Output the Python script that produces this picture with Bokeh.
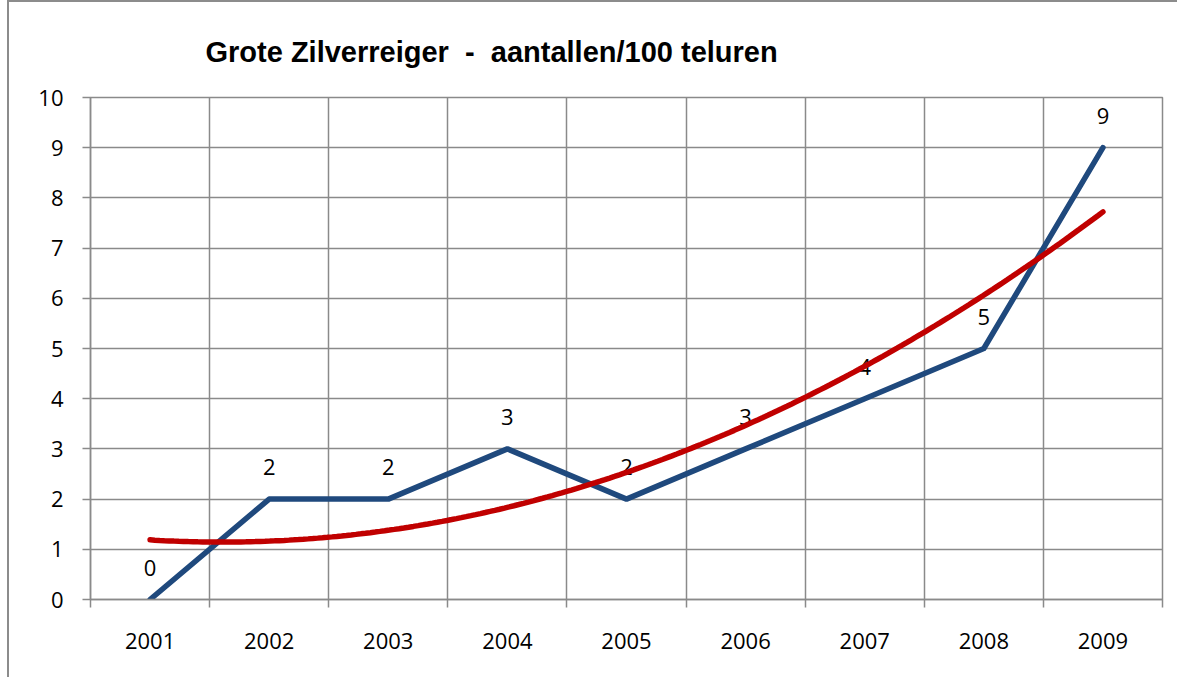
import numpy as np
from bokeh.plotting import figure
from bokeh.models import FixedTicker, Title
from bokeh.core.properties import value
from bokeh.embed import file_html
from bokeh.resources import INLINE

# ---- data ----
years = ["2001", "2002", "2003", "2004", "2005", "2006", "2007", "2008", "2009"]
counts = [0, 2, 2, 3, 2, 3, 4, 5, 9]
title_text = "Grote Zilverreiger \u00a0-\u00a0 aantallen/100 teluren"
y_ticks = [0, 1, 2, 3, 4, 5, 6, 7, 8, 9, 10]

# positions of categories on a numeric axis
xs = list(range(1, len(years) + 1))
bounds = [i + 0.5 for i in range(0, len(years) + 1)]

# polynomial (order 2) trend line, as Excel computes it from the series
coef = np.polyfit(xs, counts, 2)
tx = np.linspace(xs[0], xs[-1], 200)
ty = np.polyval(coef, tx)

GRID = "#8a8a8a"
BLUE = "#1F497D"
RED = "#C00000"
FONT = "Open Sans"

p = figure(width=1170, height=677, x_range=(bounds[0], bounds[-1]),
           y_range=(y_ticks[0], y_ticks[-1]),
           output_backend="svg", toolbar_location=None,
           min_border_left=81, min_border_right=17,
           min_border_top=95, min_border_bottom=80)
p.styles = {"margin-left": "7px", "margin-top": "0px",
            "border-left": "2px solid #8c8c8c", "border-top": "2px solid #8c8c8c"}
p.background_fill_color = "white"
p.border_fill_color = "white"
p.outline_line_color = GRID
p.outline_line_width = 1.5

t = Title(text=title_text, align="left", offset=115,
          text_font="Liberation Sans", text_font_style="bold",
          text_font_size="29px", text_color="black", standoff=60)
p.add_layout(t, "above")

# x axis
xa = p.xaxis[0]
xa.ticker = FixedTicker(ticks=xs, minor_ticks=bounds)
xa.major_label_overrides = {x: y for x, y in zip(xs, years)}
xa.major_tick_in = 0
xa.major_tick_out = 0
xa.major_tick_line_color = None
xa.minor_tick_in = 0
xa.minor_tick_out = 8
xa.minor_tick_line_color = GRID
xa.minor_tick_line_width = 1.5
xa.axis_line_color = GRID
xa.axis_line_width = 1.5
xa.major_label_standoff = 25
xa.major_label_text_font = FONT
xa.major_label_text_font_size = "22px"
xa.major_label_text_color = "black"

# y axis
ya = p.yaxis[0]
ya.ticker = FixedTicker(ticks=y_ticks)
ya.major_tick_in = 0
ya.major_tick_out = 8
ya.major_tick_line_color = GRID
ya.major_tick_line_width = 1.5
ya.minor_tick_line_color = None
ya.axis_line_color = GRID
ya.axis_line_width = 1.5
ya.major_label_standoff = 19
ya.major_label_text_font = FONT
ya.major_label_text_font_size = "22px"
ya.major_label_text_color = "black"

p.xgrid.ticker = FixedTicker(ticks=bounds)
p.ygrid.ticker = FixedTicker(ticks=y_ticks)
for g in (p.xgrid, p.ygrid):
    g.grid_line_color = GRID
    g.grid_line_width = 1.5

# data labels
p.text(x=xs, y=counts, text=[str(c) for c in counts], y_offset=-32,
       text_align="center", text_baseline="middle",
       text_font=value(FONT), text_font_size="22px", text_color="black")

p.line(xs, counts, line_color=BLUE, line_width=5.5, line_join="round", line_cap="round")
p.line(tx, ty, line_color=RED, line_width=5.5, line_cap="round")

open("out.html", "w").write(file_html(p, INLINE))
